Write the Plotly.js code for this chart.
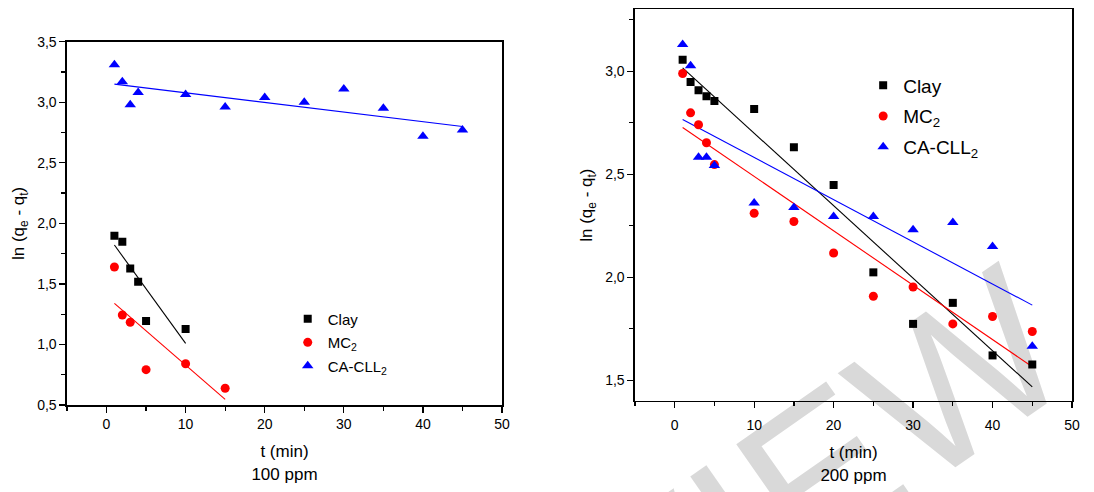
<!DOCTYPE html>
<html>
<head>
<meta charset="utf-8">
<script src="https://cdn.plot.ly/plotly-3.0.1.min.js"></script>
<style>html,body{margin:0;padding:0;background:#fff;}#chart{width:1094px;height:492px;}</style>
</head>
<body>
<div id="chart"></div>
<script>
// ---- 100 ppm ----
var clayT1 = [1, 2, 3, 4, 5, 10];
var clayY1 = [1.898, 1.849, 1.628, 1.518, 1.194, 1.128];
var mcT1 = [1, 2, 3, 5, 10, 15];
var mcY1 = [1.640, 1.243, 1.183, 0.792, 0.841, 0.638];
var caT1 = [1, 2, 3, 4, 10, 15, 20, 25, 30, 35, 40, 45];
var caY1 = [3.31, 3.17, 2.98, 3.08, 3.065, 2.96, 3.04, 3.00, 3.11, 2.95, 2.72, 2.77];
var clayFitT1 = [1, 10], clayFitY1 = [1.821, 1.009];
var mcFitT1 = [1, 15], mcFitY1 = [1.339, 0.547];
var caFitT1 = [1, 45], caFitY1 = [3.15, 2.80];

// ---- 200 ppm ----
var t2 = [1, 2, 3, 4, 5, 10, 15, 20, 25, 30, 35, 40, 45];
var clayY2 = [3.056, 2.948, 2.908, 2.879, 2.855, 2.816, 2.631, 2.448, 2.024, 1.774, 1.876, 1.621, 1.577];
var mcY2 = [2.989, 2.798, 2.740, 2.653, 2.547, 2.311, 2.271, 2.118, 1.908, 1.953, 1.774, 1.810, 1.737];
var caY2 = [3.129, 3.026, 2.582, 2.582, 2.542, 2.360, 2.339, 2.295, 2.295, 2.231, 2.266, 2.150, 1.666];
var clayFitT2 = [1, 45], clayFitY2 = [3.016, 1.468];
var mcFitT2 = [1, 45], mcFitY2 = [2.727, 1.566];
var caFitT2 = [1, 45], caFitY2 = [2.766, 1.865];

var names = ['Clay', 'MC<sub>2</sub>', 'CA-CLL<sub>2</sub>'];
var colors = ['#000000', '#ff0000', '#0000ff'];
var symbols = ['square', 'circle', 'triangle-up'];
var sizes = [8, 9, 10];
var watermark = 'PREVIEW';

function pts(x, y, i, xa, ya, lg) {
  return {x: x, y: y, type: 'scatter', mode: 'markers', name: names[i], xaxis: xa, yaxis: ya,
    legend: lg, legendgroup: lg + i, marker: {color: colors[i], symbol: symbols[i], size: sizes[i]}};
}
function fit(x, y, i, xa, ya) {
  return {x: x, y: y, type: 'scatter', mode: 'lines', showlegend: false, xaxis: xa, yaxis: ya,
    line: {color: colors[i], width: 1.1}, hoverinfo: 'skip'};
}

var data = [
  fit(clayFitT1, clayFitY1, 0, 'x', 'y'), fit(mcFitT1, mcFitY1, 1, 'x', 'y'), fit(caFitT1, caFitY1, 2, 'x', 'y'),
  pts(clayT1, clayY1, 0, 'x', 'y', 'legend'), pts(mcT1, mcY1, 1, 'x', 'y', 'legend'), pts(caT1, caY1, 2, 'x', 'y', 'legend'),
  fit(clayFitT2, clayFitY2, 0, 'x2', 'y2'), fit(mcFitT2, mcFitY2, 1, 'x2', 'y2'), fit(caFitT2, caFitY2, 2, 'x2', 'y2'),
  pts(t2, clayY2, 0, 'x2', 'y2', 'legend2'), pts(t2, mcY2, 1, 'x2', 'y2', 'legend2'), pts(t2, caY2, 2, 'x2', 'y2', 'legend2')
];

var font = 'Liberation Sans, Arial, sans-serif';
function xax(dom, anchor, sub, lblOff) {
  return {domain: dom, anchor: anchor, range: [-5, 50], dtick: 10, tick0: 0,
    showline: true, mirror: true, linecolor: '#000', linewidth: 1.5, showgrid: false, zeroline: false,
    ticks: 'outside', ticklen: 6, tickwidth: 1.3, tickcolor: '#000', ticklabelstandoff: lblOff,
    minor: {ticks: 'outside', dtick: 5, ticklen: 4, tickwidth: 1.3, tickcolor: '#000', showgrid: false},
    tickfont: {family: font, size: 14, color: '#000'},
    title: {text: 't (min)<br>' + sub, font: {family: font, size: 17, color: '#000'}, standoff: 14}};
}
function yax(dom, anchor, rng) {
  return {domain: dom, anchor: anchor, range: rng, dtick: 0.5, tick0: 0, tickformat: '.1f',
    showline: true, mirror: true, linecolor: '#000', linewidth: 1.5, showgrid: false, zeroline: false,
    ticks: 'outside', ticklen: 6, tickwidth: 1.3, tickcolor: '#000',
    minor: {ticks: 'outside', dtick: 0.25, ticklen: 4, tickwidth: 1.3, tickcolor: '#000', showgrid: false},
    tickfont: {family: font, size: 14, color: '#000'},
    title: {text: 'ln (q<sub>e</sub> - q<sub>t</sub>)', font: {family: font, size: 17, color: '#000'}, standoff: 8}};
}

var layout = {
  width: 1094, height: 492,
  margin: {l: 0, r: 0, t: 0, b: 0},
  paper_bgcolor: '#fff', plot_bgcolor: 'rgba(0,0,0,0)',
  separators: ', ',
  font: {family: font, color: '#000'},
  xaxis: xax([0.0612, 0.4589], 'y', '100 ppm', 0),
  yaxis: yax([0.1768, 0.9152], 'x', [0.5, 3.5]),
  xaxis2: xax([0.5804, 0.9799], 'y2', '200 ppm', 5),
  yaxis2: yax([0.185, 0.981], 'x2', [1.4, 3.3]),
  legend: {x: 0.263, y: 0.385, xanchor: 'left', yanchor: 'top', bgcolor: 'rgba(0,0,0,0)',
    font: {family: font, size: 15, color: '#000'}, tracegroupgap: 1},
  legend2: {x: 0.789, y: 0.865, xanchor: 'left', yanchor: 'top', bgcolor: 'rgba(0,0,0,0)',
    font: {family: font, size: 19, color: '#000'}, tracegroupgap: 3},
  shapes: [{type: 'rect', xref: 'paper', yref: 'paper', x0: 0.528, x1: 0.628, y0: -0.25, y1: -0.11,
    line: {width: 0}, fillcolor: 'rgba(0,0,0,0)', layer: 'below',
    label: {text: watermark, textangle: -35, textposition: 'middle center',
      font: {family: font, size: 210, color: '#d9d9d9'}}}],
  showlegend: true
};

Plotly.newPlot('chart', data, layout, {displayModeBar: false, staticPlot: true});
</script>
</body>
</html>
